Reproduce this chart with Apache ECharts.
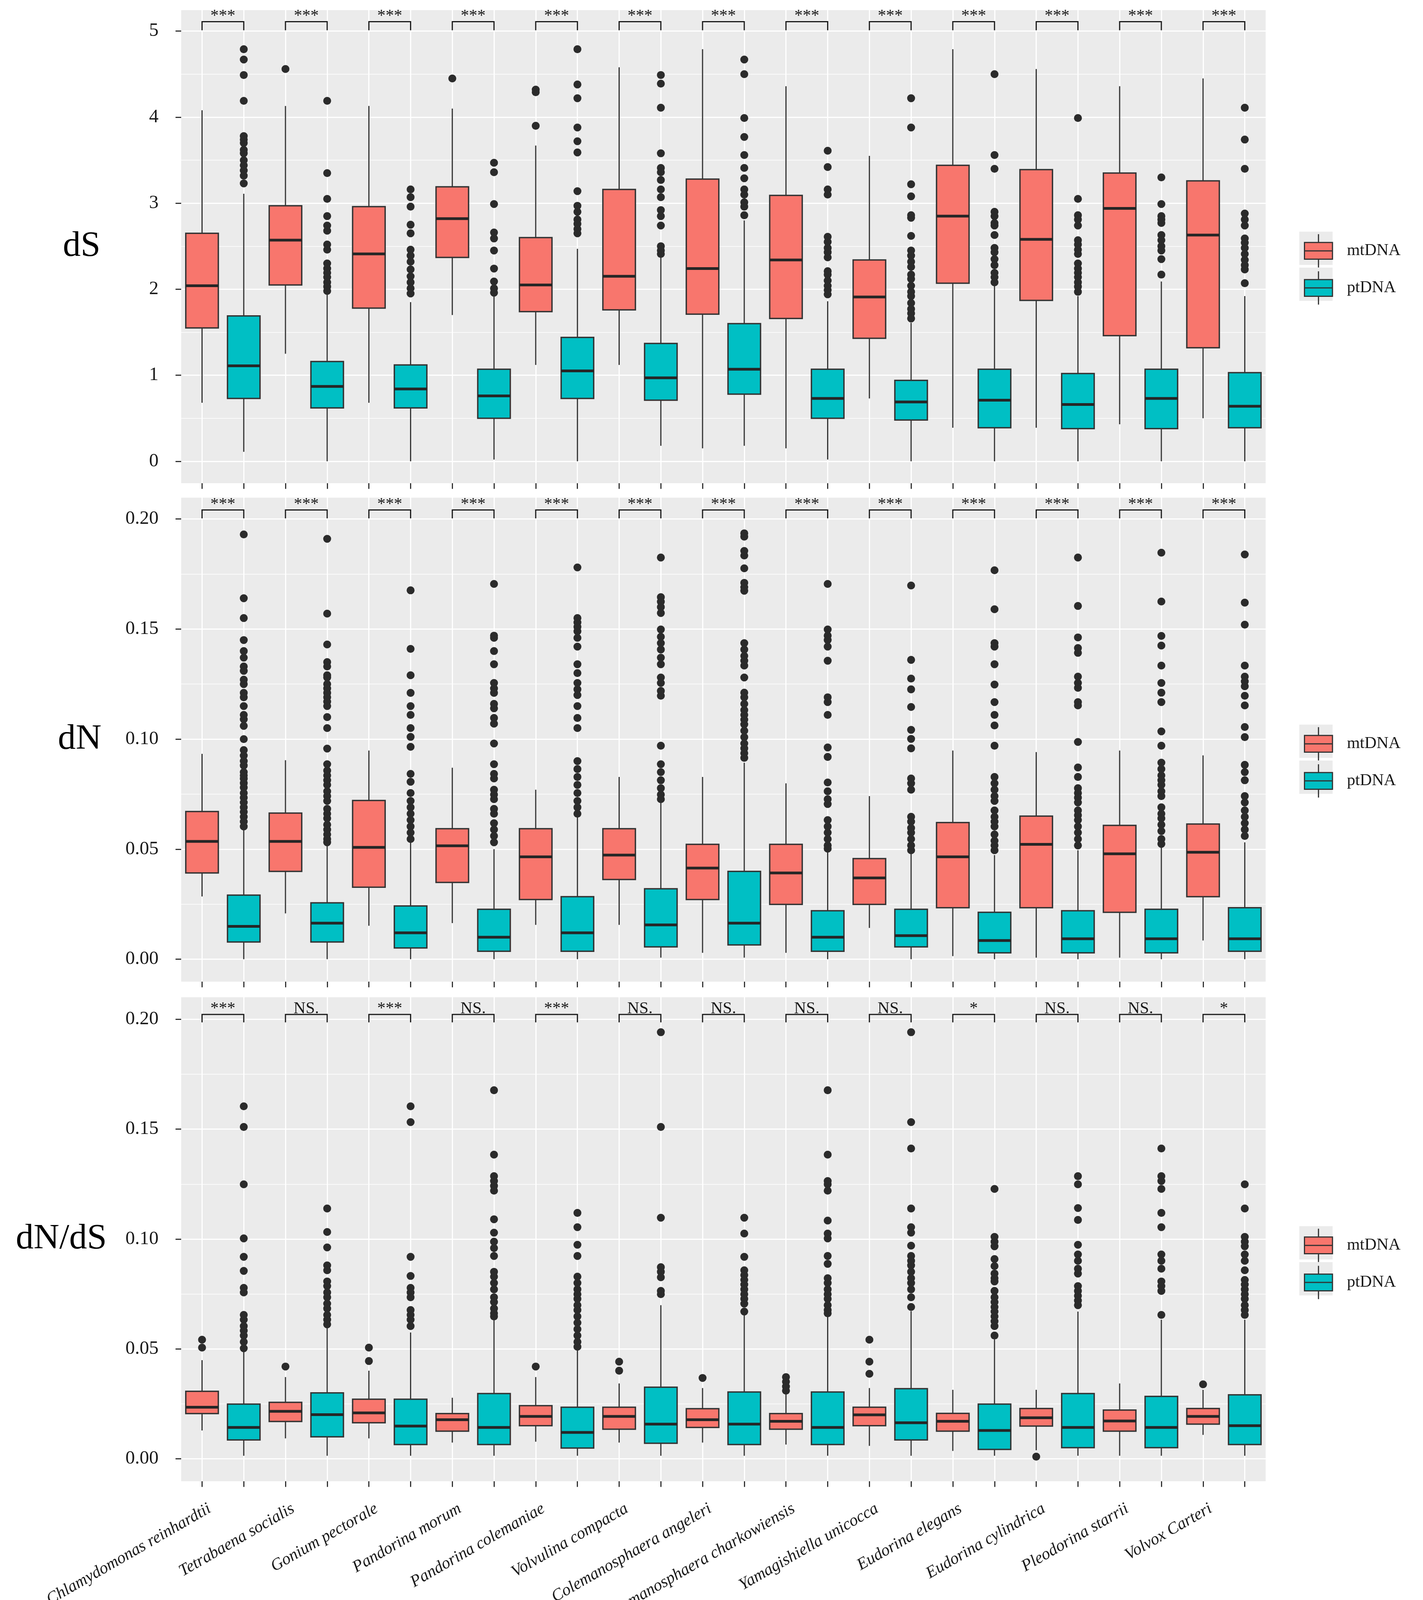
<!DOCTYPE html>
<html>
<head>
<meta charset="utf-8">
<title>dS, dN and dN/dS of mtDNA and ptDNA</title>
<script src="https://cdn.jsdelivr.net/npm/echarts@6.0.0/dist/echarts.min.js"></script>
<style>
html, body { margin: 0; padding: 0; background: #fff; overflow: hidden; }
#chart1 { width: 100vw; height: 100vh; }
</style>
</head>
<body>
<div id="chart1"></div>
<script>
var species = ['Chlamydomonas reinhardtii', 'Tetrabaena socialis', 'Gonium pectorale', 'Pandorina morum',
    'Pandorina colemaniae', 'Volvulina compacta', 'Colemanosphaera angeleri', 'Colemanosphaera charkowiensis',
    'Yamagishiella unicocca', 'Eudorina elegans', 'Eudorina cylindrica', 'Pleodorina starrii', 'Volvox Carteri'];
var genomes = ['mtDNA', 'ptDNA'];

// box = [lower whisker, Q1, median, Q3, upper whisker]
var dsMt = [
    [0.68, 1.55, 2.04, 2.65, 4.08], [1.25, 2.05, 2.57, 2.97, 4.13], [0.68, 1.78, 2.41, 2.96, 4.13],
    [1.70, 2.37, 2.82, 3.19, 4.10], [1.12, 1.74, 2.05, 2.60, 3.67], [1.12, 1.76, 2.15, 3.16, 4.58],
    [0.15, 1.71, 2.24, 3.28, 4.79], [0.15, 1.66, 2.34, 3.09, 4.36], [0.73, 1.43, 1.91, 2.34, 3.55],
    [0.39, 2.07, 2.85, 3.44, 4.79], [0.39, 1.87, 2.58, 3.39, 4.56], [0.43, 1.46, 2.94, 3.35, 4.36],
    [0.50, 1.32, 2.63, 3.26, 4.45]
];
var dsPt = [
    [0.11, 0.73, 1.11, 1.69, 3.11], [0, 0.62, 0.87, 1.16, 1.95], [0, 0.62, 0.84, 1.12, 1.85],
    [0.02, 0.50, 0.76, 1.07, 1.92], [0, 0.73, 1.05, 1.44, 2.47], [0.18, 0.71, 0.97, 1.37, 2.37],
    [0.18, 0.78, 1.07, 1.60, 2.80], [0.02, 0.50, 0.73, 1.07, 1.86], [0, 0.48, 0.69, 0.94, 1.61],
    [0, 0.39, 0.71, 1.07, 2.04], [0, 0.38, 0.66, 1.02, 1.92], [0, 0.38, 0.73, 1.07, 2.09],
    [0, 0.39, 0.64, 1.03, 1.92]
];
var dsMtOut = [[], [4.56], [], [4.45], [4.32, 4.29, 3.90], [], [], [], [], [], [], [], []];
var dsPtOut = [
    [4.79, 4.67, 4.49, 4.19, 3.78, 3.74, 3.70, 3.62, 3.58, 3.50, 3.44, 3.38, 3.32, 3.23],
    [4.19, 3.35, 3.05, 2.85, 2.74, 2.68, 2.52, 2.46, 2.30, 2.24, 2.19, 2.14, 2.08, 2.03, 1.98],
    [3.16, 3.07, 2.96, 2.75, 2.65, 2.46, 2.39, 2.32, 2.23, 2.15, 2.08, 2.01, 1.95],
    [3.47, 3.36, 2.99, 2.66, 2.59, 2.45, 2.24, 2.09, 2.01, 1.96],
    [4.79, 4.38, 4.22, 3.88, 3.72, 3.59, 3.14, 2.97, 2.90, 2.81, 2.76, 2.70, 2.65],
    [4.49, 4.39, 4.11, 3.58, 3.41, 3.36, 3.27, 3.16, 3.07, 2.92, 2.85, 2.74, 2.50, 2.45, 2.41],
    [4.67, 4.50, 3.99, 3.77, 3.56, 3.41, 3.29, 3.16, 3.10, 3.01, 2.96, 2.86],
    [3.61, 3.42, 3.16, 3.10, 2.61, 2.55, 2.48, 2.43, 2.37, 2.21, 2.17, 2.10, 2.04, 1.99, 1.94],
    [4.22, 3.88, 3.22, 3.08, 2.86, 2.83, 2.62, 2.45, 2.39, 2.32, 2.26, 2.17, 2.12, 2.04, 1.97, 1.92, 1.84, 1.77, 1.72, 1.66],
    [4.50, 3.56, 3.40, 2.90, 2.85, 2.77, 2.74, 2.63, 2.48, 2.43, 2.35, 2.28, 2.19, 2.14, 2.08],
    [3.99, 3.05, 2.86, 2.81, 2.74, 2.57, 2.52, 2.46, 2.41, 2.30, 2.24, 2.19, 2.14, 2.08, 2.03, 1.97],
    [3.30, 2.99, 2.85, 2.81, 2.77, 2.63, 2.57, 2.50, 2.45, 2.35, 2.17],
    [4.11, 3.74, 3.40, 2.88, 2.81, 2.74, 2.59, 2.54, 2.48, 2.41, 2.34, 2.28, 2.23, 2.07]
];

var dnMt = [
    [0.0285, 0.0392, 0.0535, 0.0671, 0.0933], [0.0208, 0.0399, 0.0535, 0.0664, 0.0904], [0.0152, 0.0327, 0.0508, 0.0721, 0.0948],
    [0.0164, 0.0349, 0.0515, 0.0593, 0.0870], [0.0156, 0.0271, 0.0465, 0.0593, 0.0770], [0.0156, 0.0362, 0.0473, 0.0593, 0.0828],
    [0.0029, 0.0271, 0.0414, 0.0522, 0.0828], [0.0029, 0.0249, 0.0392, 0.0522, 0.0799], [0.0142, 0.0249, 0.0369, 0.0457, 0.0741],
    [0.0014, 0.0234, 0.0465, 0.0621, 0.0948], [0.0007, 0.0234, 0.0522, 0.0650, 0.0941], [0.0007, 0.0213, 0.0479, 0.0608, 0.0948],
    [0.0085, 0.0284, 0.0486, 0.0614, 0.0926]
];
var dnPt = [
    [0, 0.0078, 0.0149, 0.0291, 0.0596], [0, 0.0078, 0.0164, 0.0256, 0.0520], [0, 0.0051, 0.0120, 0.0242, 0.0531],
    [0, 0.0036, 0.0100, 0.0227, 0.0500], [0, 0.0036, 0.0120, 0.0284, 0.0654], [0.0007, 0.0056, 0.0156, 0.0320, 0.0712],
    [0.0007, 0.0065, 0.0164, 0.0399, 0.0893], [0, 0.0036, 0.0100, 0.0220, 0.0488], [0, 0.0056, 0.0107, 0.0227, 0.0480],
    [0, 0.0029, 0.0085, 0.0213, 0.0473], [0, 0.0029, 0.0093, 0.0220, 0.0495], [0, 0.0029, 0.0093, 0.0227, 0.0509],
    [0, 0.0036, 0.0093, 0.0234, 0.0531]
];
var dnMtOut = [[], [], [], [], [], [], [], [], [], [], [], [], []];
var dnPtOut = [
    [0.193, 0.164, 0.155, 0.145, 0.140, 0.137, 0.133, 0.131, 0.127, 0.125, 0.121, 0.119, 0.115, 0.111, 0.109, 0.106, 0.100,
        0.095, 0.0925, 0.090, 0.088, 0.085, 0.0835, 0.082, 0.080, 0.078, 0.0755, 0.0734, 0.0712, 0.069, 0.0669, 0.0647, 0.0625, 0.0603],
    [0.191, 0.157, 0.143, 0.135, 0.133, 0.129, 0.128, 0.125, 0.123, 0.121, 0.119, 0.117, 0.115, 0.110, 0.105, 0.0957, 0.0886,
        0.0857, 0.0835, 0.0813, 0.0792, 0.0763, 0.0741, 0.0719, 0.0683, 0.0661, 0.064, 0.0611, 0.0589, 0.0567, 0.0546, 0.0531],
    [0.1676, 0.141, 0.129, 0.121, 0.115, 0.111, 0.105, 0.101, 0.0965, 0.0842, 0.0806, 0.0755, 0.0719, 0.069, 0.0661, 0.0632,
        0.0603, 0.0575, 0.0546],
    [0.1705, 0.147, 0.146, 0.140, 0.134, 0.1255, 0.123, 0.121, 0.116, 0.114, 0.1096, 0.107, 0.098, 0.0886, 0.0842, 0.0821,
        0.077, 0.0748, 0.0727, 0.0683, 0.0661, 0.0618, 0.0589, 0.056, 0.0531],
    [0.178, 0.155, 0.153, 0.151, 0.149, 0.146, 0.142, 0.134, 0.130, 0.1255, 0.1226, 0.120, 0.115, 0.1096, 0.105, 0.090,
        0.0864, 0.0828, 0.0792, 0.0755, 0.0719, 0.069, 0.0661],
    [0.1825, 0.1645, 0.1624, 0.160, 0.1573, 0.1498, 0.1465, 0.1436, 0.1407, 0.137, 0.134, 0.128, 0.1255, 0.1219, 0.1197,
        0.097, 0.0886, 0.085, 0.0813, 0.0777, 0.0748, 0.0727],
    [0.1935, 0.192, 0.1855, 0.1834, 0.1776, 0.171, 0.169, 0.1674, 0.1436, 0.1407, 0.1378, 0.1356, 0.1334, 0.128, 0.1211,
        0.119, 0.116, 0.1132, 0.111, 0.1088, 0.1067, 0.1038, 0.1009, 0.098, 0.0958, 0.0936, 0.0915],
    [0.1705, 0.1498, 0.147, 0.145, 0.142, 0.1356, 0.119, 0.1168, 0.111, 0.0962, 0.0919, 0.0803, 0.0763, 0.0727, 0.0705,
        0.0632, 0.0603, 0.0575, 0.0546, 0.0517, 0.0502],
    [0.1698, 0.136, 0.1275, 0.1226, 0.1146, 0.1042, 0.1001, 0.0958, 0.0821, 0.0799, 0.077, 0.0647, 0.0625, 0.0596, 0.0575,
        0.0546, 0.0517, 0.0495],
    [0.1767, 0.159, 0.1436, 0.142, 0.134, 0.1248, 0.1168, 0.111, 0.1062, 0.097, 0.0828, 0.0799, 0.077, 0.0741, 0.0719,
        0.0676, 0.0647, 0.0625, 0.0603, 0.0567, 0.0538, 0.0517, 0.0495],
    [0.1825, 0.1605, 0.1462, 0.1414, 0.1392, 0.1284, 0.1255, 0.1233, 0.1168, 0.1153, 0.0987, 0.0871, 0.0828, 0.0777,
        0.0755, 0.0734, 0.0712, 0.0676, 0.0654, 0.0632, 0.0603, 0.0575, 0.0546, 0.0517],
    [0.1847, 0.1625, 0.1469, 0.1425, 0.1334, 0.1255, 0.1211, 0.1168, 0.1035, 0.097, 0.0893, 0.0864, 0.0835, 0.0813,
        0.0792, 0.0763, 0.0741, 0.069, 0.0661, 0.064, 0.0611, 0.0582, 0.0546, 0.0524],
    [0.1839, 0.162, 0.152, 0.1334, 0.1284, 0.1262, 0.124, 0.1197, 0.1153, 0.1055, 0.1009, 0.0883, 0.085, 0.0813, 0.0741,
        0.0712, 0.0676, 0.0647, 0.0618, 0.0589, 0.056]
];

var ratioMt = [
    [0.0129, 0.0206, 0.0235, 0.0307, 0.0449], [0.0093, 0.0170, 0.0216, 0.0257, 0.0372], [0.0093, 0.0164, 0.0209, 0.0271, 0.0401],
    [0.0074, 0.0126, 0.0178, 0.0206, 0.0278], [0.0078, 0.0151, 0.0193, 0.0242, 0.0372], [0.0074, 0.0135, 0.0193, 0.0235, 0.0343],
    [0.0074, 0.0143, 0.0178, 0.0228, 0.0322], [0.0065, 0.0135, 0.0171, 0.0206, 0.0300], [0.0059, 0.0151, 0.0200, 0.0235, 0.0322],
    [0.0036, 0.0126, 0.0171, 0.0207, 0.0314], [0.0039, 0.0149, 0.0187, 0.0229, 0.0314], [0.0014, 0.0126, 0.0172, 0.0222, 0.0343],
    [0.0109, 0.0158, 0.0193, 0.0229, 0.0314]
];
var ratioPt = [
    [0.0014, 0.0086, 0.0143, 0.0249, 0.0488], [0.0014, 0.0100, 0.0201, 0.0300, 0.0597], [0.0014, 0.0065, 0.0149, 0.0271, 0.0575],
    [0.0014, 0.0065, 0.0143, 0.0297, 0.0633], [0.0014, 0.0049, 0.0120, 0.0235, 0.0496], [0.0014, 0.0071, 0.0158, 0.0326, 0.0699],
    [0.0014, 0.0065, 0.0158, 0.0304, 0.0655], [0.0014, 0.0065, 0.0143, 0.0304, 0.0651], [0.0014, 0.0086, 0.0164, 0.0319, 0.0672],
    [0.0014, 0.0043, 0.0129, 0.0249, 0.0543], [0.0014, 0.0051, 0.0143, 0.0297, 0.0670], [0.0014, 0.0051, 0.0143, 0.0284, 0.0633],
    [0.0014, 0.0065, 0.0151, 0.0291, 0.0633]
];
var ratioMtOut = [[0.0542, 0.0506], [0.042], [0.0506, 0.0445], [], [0.042], [0.0442, 0.0401], [0.0368],
    [0.0372, 0.0351, 0.0329, 0.031], [0.0542, 0.0442, 0.0387], [], [0.001], [], [0.0339]];
var ratioPtOut = [
    [0.1604, 0.151, 0.1249, 0.1003, 0.0919, 0.0855, 0.0778, 0.0757, 0.0655, 0.0633, 0.0604, 0.0583, 0.0561, 0.0532, 0.0503],
    [0.1139, 0.1032, 0.0962, 0.088, 0.0858, 0.0807, 0.0786, 0.0757, 0.0735, 0.0706, 0.0684, 0.0655, 0.0633, 0.0612],
    [0.1604, 0.1532, 0.0919, 0.0832, 0.0778, 0.0757, 0.0735, 0.0677, 0.0655, 0.0633, 0.0604],
    [0.1677, 0.1384, 0.1286, 0.1264, 0.1242, 0.122, 0.109, 0.1029, 0.0988, 0.0959, 0.0923, 0.0851, 0.0829, 0.08, 0.0771,
        0.0735, 0.0713, 0.0684, 0.0662, 0.0648],
    [0.1119, 0.1054, 0.0974, 0.0923, 0.0829, 0.08, 0.0771, 0.0749, 0.0728, 0.0699, 0.0677, 0.0648, 0.0619, 0.059, 0.0561,
        0.0532, 0.051],
    [0.1941, 0.151, 0.1097, 0.0872, 0.0851, 0.0826, 0.0764, 0.0749],
    [0.1097, 0.1025, 0.0919, 0.0858, 0.0836, 0.0814, 0.0793, 0.0771, 0.0749, 0.0728, 0.0706, 0.067],
    [0.1677, 0.1384, 0.1264, 0.1249, 0.122, 0.1084, 0.1025, 0.1003, 0.0923, 0.0887, 0.0822, 0.08, 0.0771, 0.0749, 0.0728,
        0.0699, 0.0677, 0.0662],
    [0.1941, 0.1532, 0.1412, 0.1139, 0.1054, 0.1029, 0.097, 0.0923, 0.0901, 0.088, 0.0851, 0.0822, 0.08, 0.0771, 0.0735, 0.0691],
    [0.1228, 0.101, 0.0988, 0.0967, 0.0909, 0.0877, 0.0843, 0.0822, 0.0807, 0.0764, 0.0735, 0.0713, 0.0691, 0.067, 0.0648,
        0.0626, 0.0604, 0.0561],
    [0.1286, 0.1249, 0.1141, 0.1087, 0.0974, 0.093, 0.0901, 0.0865, 0.0843, 0.0786, 0.0764, 0.0742, 0.072, 0.0699],
    [0.1412, 0.1286, 0.1264, 0.1228, 0.1119, 0.1054, 0.093, 0.0901, 0.0865, 0.0807, 0.0786, 0.0764, 0.0655],
    [0.1249, 0.1139, 0.101, 0.0988, 0.0967, 0.093, 0.0901, 0.0858, 0.0814, 0.0793, 0.0771, 0.0749, 0.0728, 0.0699, 0.0677, 0.0655]
];

var dsSig = ['***', '***', '***', '***', '***', '***', '***', '***', '***', '***', '***', '***', '***'];
var dnSig = ['***', '***', '***', '***', '***', '***', '***', '***', '***', '***', '***', '***', '***'];
var ratioSig = ['***', 'NS.', '***', 'NS.', '***', 'NS.', 'NS.', 'NS.', 'NS.', '*', 'NS.', 'NS.', '*'];

var dsTicks = [0, 1, 2, 3, 4, 5];
var dnTicks = [0, 0.05, 0.10, 0.15, 0.20];
var ratioTicks = [0, 0.05, 0.10, 0.15, 0.20];

var SERIF = '"Liberation Serif", "Times New Roman", serif';
var colors = { mtDNA: '#F8766D', ptDNA: '#00BFC4' };

// layout is measured on a 3644 x 4227 figure, scaled to the visible window
var W = window.innerWidth || 3644;
var H = window.innerHeight || 4227;
var sx = W / 3644, sy = H / 4227, sf = Math.min(sx, sy);
function X (v) { return Math.round(v * sx); }
function Y (v) { return Math.round(v * sy); }
function F (v) { return Math.round(v * sf * 10) / 10; }

function renderBox (params, api) {
    var x = api.value(0);
    var lo = api.coord([x, api.value(1)]);
    var q1 = api.coord([x, api.value(2)]);
    var md = api.coord([x, api.value(3)]);
    var q3 = api.coord([x, api.value(4)]);
    var hi = api.coord([x, api.value(5)]);
    var half = api.size([1, 0])[0] * 0.39;
    var cx = md[0];
    return {
        type: 'group',
        children: [
            { type: 'line', shape: { x1: cx, y1: hi[1], x2: cx, y2: q3[1] }, style: { stroke: '#333', lineWidth: 3 } },
            { type: 'line', shape: { x1: cx, y1: q1[1], x2: cx, y2: lo[1] }, style: { stroke: '#333', lineWidth: 3 } },
            {
                type: 'rect',
                shape: { x: cx - half, y: q3[1], width: half * 2, height: q1[1] - q3[1] },
                style: { fill: api.visual('color'), stroke: '#333', lineWidth: 3.5 }
            },
            { type: 'line', shape: { x1: cx - half, y1: md[1], x2: cx + half, y2: md[1] }, style: { stroke: '#262626', lineWidth: 7 } }
        ]
    };
}

function makeBracket (labels, top, low) {
    return function (params, api) {
        var i = params.dataIndex;
        var a = api.coord([2 * i, top]);
        var b = api.coord([2 * i + 1, top]);
        var foot = api.coord([2 * i, low])[1];
        return {
            type: 'group',
            children: [
                {
                    type: 'polyline',
                    shape: { points: [[a[0], foot], [a[0], a[1]], [b[0], b[1]], [b[0], foot]] },
                    style: { stroke: '#1a1a1a', lineWidth: 3, fill: null }
                },
                {
                    type: 'text',
                    x: (a[0] + b[0]) / 2,
                    y: a[1] + F(8),
                    style: {
                        text: labels[i], fontSize: F(44), fontFamily: SERIF, fill: '#1a1a1a',
                        align: 'center', verticalAlign: 'bottom'
                    }
                }
            ]
        };
    };
}

function boxData (list, offset) {
    return list.map(function (b, i) { return [2 * i + offset].concat(b); });
}

function outlierData (list, offset) {
    var pts = [];
    list.forEach(function (vals, i) {
        vals.forEach(function (v) { pts.push([2 * i + offset, v]); });
    });
    return pts;
}

function _initChart () {
    var myChart = echarts.init(document.getElementById('chart1'));

    var positions = [];
    species.forEach(function (s) {
        genomes.forEach(function (g) { positions.push(s + ' ' + g); });
    });

    var panels = [
        { title: 'dS', mt: dsMt, pt: dsPt, mtOut: dsMtOut, ptOut: dsPtOut, sig: dsSig, ticks: dsTicks,
            min: -0.255, max: 5.244, top: 27, height: 1250, nameGap: 255, bracket: [5.11, 5.01], legendTop: 612, digits: 0 },
        { title: 'dN', mt: dnMt, pt: dnPt, mtOut: dnMtOut, ptOut: dnPtOut, sig: dnSig, ticks: dnTicks,
            min: -0.0102, max: 0.2097, top: 1315, height: 1279, nameGap: 260, bracket: [0.2041, 0.2003], legendTop: 1914, digits: 2 },
        { title: 'dN/dS', mt: ratioMt, pt: ratioPt, mtOut: ratioMtOut, ptOut: ratioPtOut, sig: ratioSig, ticks: ratioTicks,
            min: -0.0102, max: 0.2100, top: 2635, height: 1279, nameGap: 307, bracket: [0.2022, 0.1986], legendTop: 3239, digits: 2 }
    ];

    var grids = [], xAxes = [], yAxes = [], series = [], legends = [], keys = [];
    var keyIcon = 'path://M37,0 V22 M37,66 V88 M0,22 H74 V66 H0 Z M0,44 H74';

    panels.forEach(function (p, k) {
        grids.push({
            left: X(464), width: X(2777), top: Y(p.top), height: Y(p.height),
            show: true, backgroundColor: '#EBEBEB', borderWidth: 0,
            containLabel: false, outerBoundsMode: 'none'
        });
        xAxes.push({
            type: 'category',
            gridIndex: k,
            data: positions,
            position: 'bottom',
            axisLine: { show: false, onZero: false },
            axisTick: { show: true, interval: 0, alignWithLabel: true, length: F(15), lineStyle: { color: '#333', width: 3 } },
            axisLabel: { show: false, interval: 0 },
            splitLine: { show: true, interval: 0, alignWithLabel: true, lineStyle: { color: '#fff', width: 3 } }
        });
        yAxes.push({
            type: 'value',
            gridIndex: k,
            min: p.min,
            max: p.max,
            name: p.title,
            nameLocation: 'middle',
            nameRotate: 0,
            nameGap: X(p.nameGap),
            nameTextStyle: { fontFamily: SERIF, fontSize: F(94), color: '#000', align: 'center', verticalAlign: 'middle' },
            axisLine: { show: false, onZero: false },
            axisTick: { show: true, length: F(15), customValues: p.ticks, lineStyle: { color: '#333', width: 3 } },
            axisLabel: {
                customValues: p.ticks,
                margin: X(58),
                fontFamily: SERIF,
                fontSize: F(50),
                color: '#1a1a1a',
                formatter: (function (d) { return function (v) { return Number(v).toFixed(d); }; })(p.digits)
            },
            splitLine: { show: true, lineStyle: { color: '#fff', width: 3 } },
            minorTick: { show: false, splitNumber: 2 },
            minorSplitLine: { show: true, lineStyle: { color: '#fff', width: 1.5 } }
        });

        [p.mt, p.pt].forEach(function (list, g) {
            series.push({
                name: genomes[g],
                type: 'custom',
                xAxisIndex: k,
                yAxisIndex: k,
                renderItem: renderBox,
                itemStyle: { color: colors[genomes[g]] },
                encode: { x: 0, y: [1, 2, 3, 4, 5] },
                data: boxData(list, g),
                z: 2,
                silent: true
            });
        });
        [p.mtOut, p.ptOut].forEach(function (list, g) {
            series.push({
                name: 'outliers',
                type: 'scatter',
                xAxisIndex: k,
                yAxisIndex: k,
                symbolSize: F(21),
                itemStyle: { color: '#2b2b2b', opacity: 1 },
                data: outlierData(list, g),
                z: 3,
                silent: true
            });
        });
        series.push({
            name: 'significance',
            type: 'custom',
            xAxisIndex: k,
            yAxisIndex: k,
            renderItem: makeBracket(p.sig, p.bracket[0], p.bracket[1]),
            encode: { x: 0, y: 1 },
            data: species.map(function (s, i) { return [2 * i, p.bracket[0]]; }),
            z: 2,
            silent: true
        });

        legends.push({
            orient: 'vertical',
            left: X(3334),
            top: Y(p.legendTop),
            itemWidth: F(74),
            itemHeight: F(88),
            itemGap: Y(95) - F(88),
            icon: keyIcon,
            selectedMode: false,
            data: genomes,
            itemStyle: { borderColor: '#333', borderWidth: 3 },
            textStyle: { fontFamily: SERIF, fontSize: F(44), color: '#1a1a1a', padding: [0, 0, 0, X(32)] }
        });
        genomes.forEach(function (g, j) {
            keys.push({
                type: 'rect',
                left: X(3334) - F(7),
                top: Y(p.legendTop) + j * Y(95),
                shape: { width: F(88), height: F(88) },
                style: { fill: '#EBEBEB' },
                z: 0
            });
        });
    });

    // species names under the last panel, one per pair of boxes
    xAxes.push({
        type: 'category',
        gridIndex: 2,
        data: species,
        position: 'bottom',
        axisLine: { show: false, onZero: false },
        axisTick: { show: false },
        splitLine: { show: false },
        axisLabel: {
            interval: 0,
            rotate: 30,
            margin: Y(50),
            padding: [0, F(40), 0, 0],
            overflow: 'none',
            width: 1200,
            hideOverlap: false,
            fontFamily: SERIF,
            fontStyle: 'italic',
            fontSize: F(44),
            color: '#1a1a1a'
        }
    });

    var option = {
        backgroundColor: '#fff',
        animation: false,
        grid: grids,
        xAxis: xAxes,
        yAxis: yAxes,
        legend: legends,
        graphic: keys,
        series: series
    };
    myChart.setOption(option);
    window.onresize = myChart.resize;
}

_initChart();
</script>
</body>
</html>
